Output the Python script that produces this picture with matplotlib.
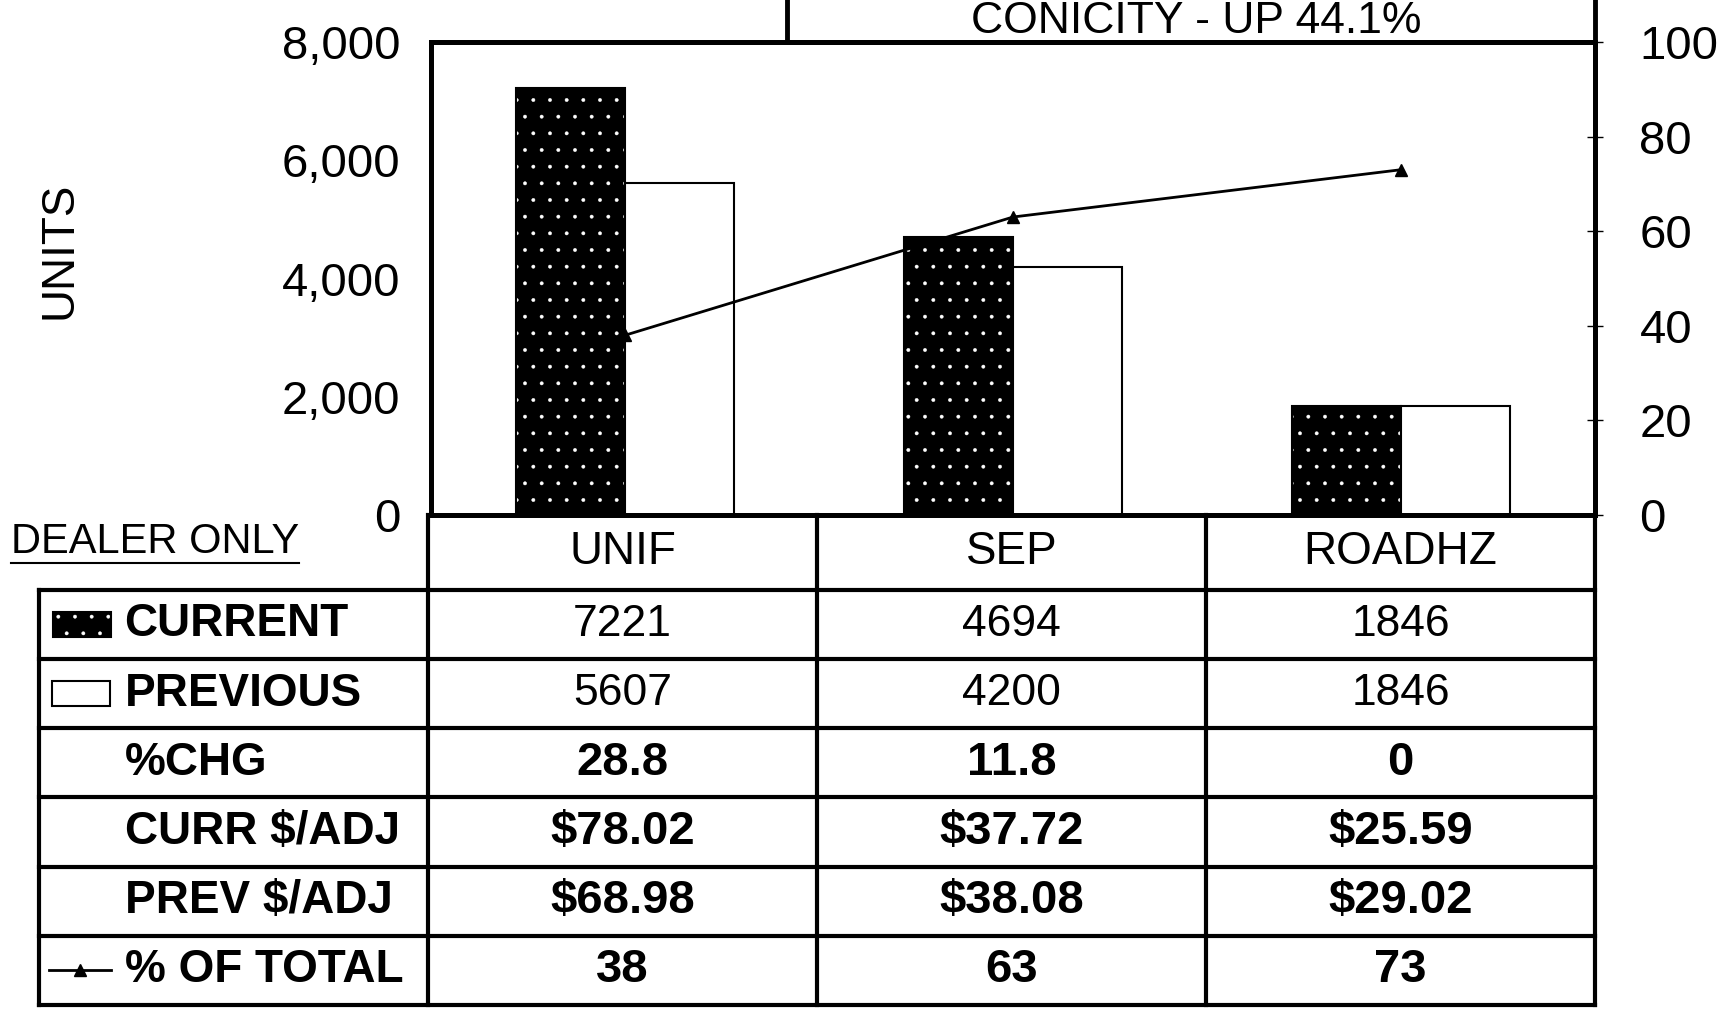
import matplotlib
matplotlib.use('Agg')
import matplotlib.pyplot as plt
from matplotlib.patches import Rectangle
from matplotlib.lines import Line2D
import numpy as np

# chart data
categories = ['UNIF', 'SEP', 'ROADHZ']
current = [7221, 4694, 1846]
previous = [5607, 4200, 1846]
pct_chg = ['28.8', '11.8', '0']
curr_adj = ['$78.02', '$37.72', '$25.59']
prev_adj = ['$68.98', '$38.08', '$29.02']
pct_total = [38, 63, 73]

row_labels = ['CURRENT', 'PREVIOUS', '%CHG', 'CURR $/ADJ', 'PREV $/ADJ', '% OF TOTAL']
left_ticks = [0, 2000, 4000, 6000, 8000]
right_ticks = [0, 20, 40, 60, 80, 100]
title = 'CONICITY - UP 44.1%'

plt.rcParams['font.family'] = ['Liberation Sans', 'DejaVu Sans']
plt.rcParams['hatch.linewidth'] = 0.3

W, H = 1733, 1013
fig = plt.figure(figsize=(W / 100, H / 100), dpi=100)


def fx(px):
    return px / W


def fy(py):
    return 1 - py / H


# --- bar / line chart ---
ax = fig.add_axes([fx(431), fy(515), fx(1595) - fx(431), fy(42) - fy(515)])
x = np.arange(len(categories))
bw = 0.28
ax.bar(x - bw / 2, current, bw, color='black', edgecolor='white', hatch='.', linewidth=0)
ax.bar(x - bw / 2, current, bw, fill=False, edgecolor='black', linewidth=1.5)
ax.bar(x + bw / 2, previous, bw, color='white', edgecolor='black', linewidth=1.5)
ax.set_xlim(-0.5, 2.5)
ax.set_ylim(0, 8000)
ax.set_xticks([])
ax.set_yticks(left_ticks)
ax.set_yticklabels([f'{v:,}' for v in left_ticks], fontsize=34)
ax.tick_params(axis='y', length=0, pad=22)
for s in ax.spines.values():
    s.set_linewidth(3.5)
ax.set_ylabel('UNITS', fontsize=33)
ax.yaxis.set_label_coords(-0.30, 0.56)

ax2 = ax.twinx()
ax2.plot(x, pct_total, color='black', linewidth=2, marker='^', markersize=9)
ax2.set_ylim(0, 100)
ax2.set_yticks(right_ticks)
ax2.tick_params(axis='y', direction='inout', length=12, width=1, labelsize=34, pad=26)
for s in ax2.spines.values():
    s.set_linewidth(3.5)

# --- data table below ---
tab = fig.add_axes([fx(39), fy(1005), fx(1595) - fx(39), fy(515) - fy(1005)])
tab.set_xlim(-1.5, 2.5)
edges = [0, 1.08, 2.08, 3.08, 4.08, 5.08, 6.08, 7.08]
tab.set_ylim(edges[-1], 0)
tab.axis('off')
lw = 3
tab.hlines(edges[1:], -1.5, 2.5, color='black', lw=lw, capstyle='projecting', clip_on=False)
tab.vlines([-0.5, 0.5, 1.5, 2.5], edges[0], edges[-1], color='black', lw=lw,
           capstyle='projecting', clip_on=False)
tab.vlines(-1.5, edges[1], edges[-1], color='black', lw=lw, capstyle='projecting', clip_on=False)

for j, c in enumerate(categories):
    tab.text(j, (edges[0] + edges[1]) / 2, c, ha='center', va='center', fontsize=33)

table_rows = [[str(v) for v in current], [str(v) for v in previous], pct_chg,
              curr_adj, prev_adj, [str(v) for v in pct_total]]
for i, (lab, vals) in enumerate(zip(row_labels, table_rows)):
    yc = (edges[i + 1] + edges[i + 2]) / 2
    tab.text(-1.28, yc, lab, ha='left', va='center', fontsize=33, fontweight='bold')
    for j, v in enumerate(vals):
        if i >= 2:
            tab.text(j, yc, v, ha='center', va='center', fontsize=34, fontweight='bold')
        else:
            tab.text(j, yc, v, ha='center', va='center', fontsize=32)

# legend glyphs in the row-label column
yc0 = (edges[1] + edges[2]) / 2
tab.add_patch(Rectangle((-1.464, yc0 - 0.18), 0.15, 0.36, facecolor='black',
                        edgecolor='white', hatch='.', linewidth=0))
tab.add_patch(Rectangle((-1.464, yc0 - 0.18), 0.15, 0.36, fill=False,
                        edgecolor='black', linewidth=1.5))
yc1 = (edges[2] + edges[3]) / 2
tab.add_patch(Rectangle((-1.467, yc1 - 0.18), 0.15, 0.36, facecolor='white',
                        edgecolor='black', linewidth=1.5))
yc5 = (edges[6] + edges[7]) / 2
tab.plot([-1.475, -1.315], [yc5, yc5], color='black', lw=2)
tab.plot([-1.395], [yc5], color='black', marker='^', markersize=8)

# title box sitting on top of the plot frame
fig.patches.append(Rectangle((fx(787), fy(42)), fx(1595) - fx(787), 0.2,
                             transform=fig.transFigure, fill=False,
                             edgecolor='black', linewidth=3.5))
fig.text(fx(1196), fy(33), title, ha='center', va='baseline', fontsize=32,
         family=['Liberation Sans Narrow', 'Liberation Sans'])

# DEALER ONLY with underline
dealer = fig.text(fx(11), fy(553), 'DEALER ONLY', fontsize=30, va='baseline')
fig.canvas.draw()
bb = dealer.get_window_extent().transformed(fig.transFigure.inverted())
fig.lines.append(Line2D([bb.x0, bb.x1], [fy(563), fy(563)], transform=fig.transFigure,
                        color='black', linewidth=1.5))

fig.savefig('out.png', dpi=100)
